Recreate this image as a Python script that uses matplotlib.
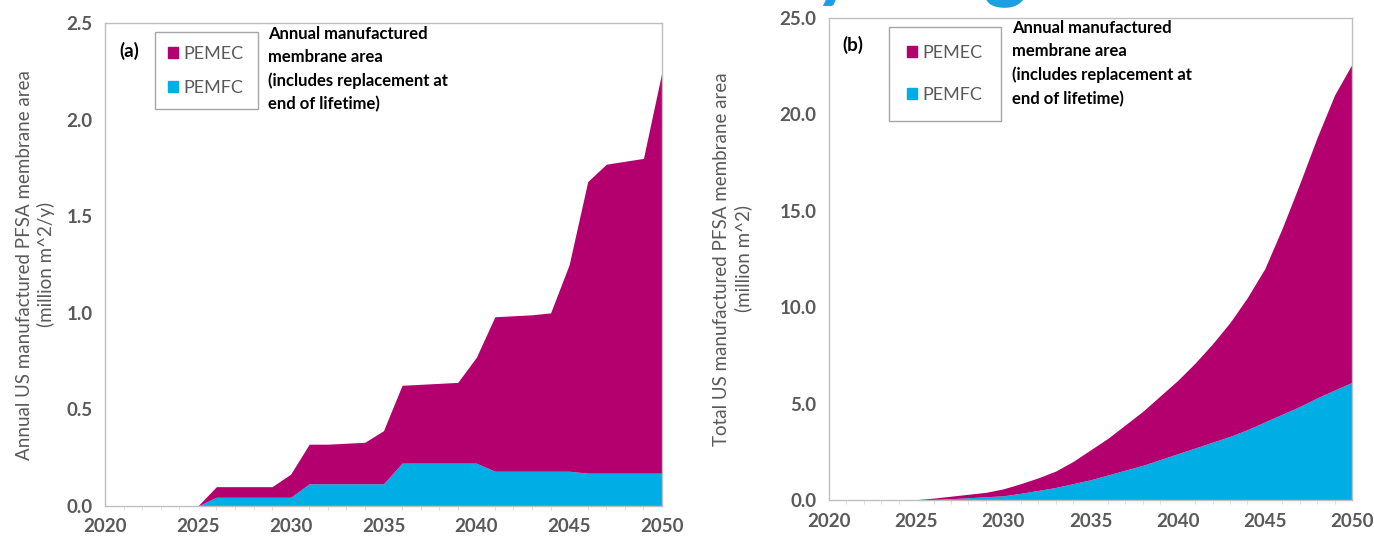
import matplotlib
matplotlib.use("Agg")
import matplotlib.pyplot as plt
from matplotlib.patches import Patch
from matplotlib.ticker import MultipleLocator, FormatStrFormatter

plt.rcParams['font.family'] = ['Lato', 'DejaVu Sans']

# -------------------------------
# DATA
# -------------------------------
years = list(range(2020, 2051))

# (a) annual manufactured membrane area, million m^2/y
annual_pemfc = [0, 0, 0, 0, 0, 0,
                0.045, 0.045, 0.045, 0.045, 0.045,
                0.115, 0.115, 0.115, 0.115, 0.115,
                0.222, 0.222, 0.222, 0.222, 0.222,
                0.18, 0.18, 0.18, 0.18, 0.18,
                0.17, 0.17, 0.17, 0.17, 0.17]
annual_total = [0, 0, 0, 0, 0, 0,
                0.1, 0.1, 0.1, 0.1, 0.165,
                0.32, 0.32, 0.325, 0.33, 0.39,
                0.625, 0.63, 0.635, 0.64, 0.77,
                0.98, 0.985, 0.99, 1.0, 1.25,
                1.68, 1.77, 1.785, 1.80, 2.25]

# (b) total manufactured membrane area, million m^2
total_pemfc = [0, 0, 0, 0, 0, 0,
               0.03, 0.07, 0.12, 0.17, 0.22,
               0.35, 0.5, 0.65, 0.85, 1.05,
               1.3, 1.55, 1.8, 2.1, 2.4,
               2.7, 3.0, 3.3, 3.65, 4.05,
               4.45, 4.85, 5.3, 5.7, 6.1]
total_all = [0, 0, 0, 0, 0, 0.02,
             0.1, 0.2, 0.3, 0.4, 0.58,
             0.85, 1.15, 1.5, 2.0, 2.6,
             3.2, 3.9, 4.6, 5.4, 6.2,
             7.1, 8.1, 9.2, 10.5, 12.0,
             14.1, 16.4, 18.8, 21.0, 22.6]

pemec_color = "#B3006E"
pemfc_color = "#00AEE6"
grey = "#595959"
note = "Annual manufactured\nmembrane area\n(includes replacement at\nend of lifetime)"

fig = plt.figure(figsize=(13.74, 5.4), dpi=100)
ax1 = fig.add_axes([0.0764, 0.063, 0.4054, 0.894])
ax2 = fig.add_axes([0.6033, 0.074, 0.3807, 0.893])

# axis, pemfc, total, ymax, ystep, tag, ylabel, label pad, legend x, legend spacing, border pad
panels = [
    (ax1, annual_pemfc, annual_total, 2.5, 0.5, "(a)",
     "Annual US manufactured PFSA membrane area\n(million m^2/y)", 8, 0.08, 1.0, 0.75),
    (ax2, total_pemfc, total_all, 25.0, 5.0, "(b)",
     "Total US manufactured PFSA membrane area\n(million m^2)", 20, 0.105, 1.45, 1.0),
]

for ax, fc, tot, ymax, ystep, tag, ylab, lpad, legx, lspace, bpad in panels:
    ax.fill_between(years, 0, fc, color=pemfc_color, lw=0)
    ax.fill_between(years, fc, tot, color=pemec_color, lw=0)
    ax.set_xlim(2020, 2050)
    ax.set_ylim(0, ymax)
    ax.xaxis.set_major_locator(MultipleLocator(5))
    ax.xaxis.set_minor_locator(MultipleLocator(1))
    ax.yaxis.set_major_locator(MultipleLocator(ystep))
    ax.yaxis.set_major_formatter(FormatStrFormatter('%.1f'))
    for s in ax.spines.values():
        s.set_color("#BFBFBF")
        s.set_linewidth(1.0)
    ax.tick_params(axis='both', which='major', length=0, labelsize=13.5,
                   labelcolor=grey, pad=9)
    ax.tick_params(axis='x', which='minor', length=3, color="#D9D9D9")
    for lab in ax.get_xticklabels() + ax.get_yticklabels():
        lab.set_fontweight('bold')
    ax.set_ylabel(ylab, fontsize=13.5, color=grey, labelpad=lpad, linespacing=1.25)

    ax.text(0.025, 0.962, tag, transform=ax.transAxes, fontsize=13.5,
            fontweight='bold', va='top', ha='left')
    handles = [Patch(color=pemec_color, label="PEMEC"),
               Patch(color=pemfc_color, label="PEMFC")]
    leg = ax.legend(handles=handles, loc='upper left',
                    bbox_to_anchor=(legx, 0.993), fontsize=13,
                    handlelength=0.55, handleheight=0.55, handletextpad=0.3,
                    labelspacing=lspace, borderpad=bpad, borderaxespad=0.3,
                    fancybox=False, edgecolor="#A6A6A6", framealpha=1)
    for t in leg.get_texts():
        t.set_color(grey)
    leg.get_frame().set_linewidth(1.0)

ax1.text(0.292, 0.995, note, transform=ax1.transAxes, fontsize=12,
         fontweight='bold', va='top', ha='left', linespacing=1.55)
ax2.text(0.35, 0.995, note, transform=ax2.transAxes, fontsize=12,
         fontweight='bold', va='top', ha='left', linespacing=1.55)

# cut-off page heading above the charts
fig.text(0.545, 1.017, "Hydrogen", color="#1BA1E2", fontsize=60,
         fontweight='bold', ha='left', va='baseline')

fig.savefig("out.png", dpi=100)
